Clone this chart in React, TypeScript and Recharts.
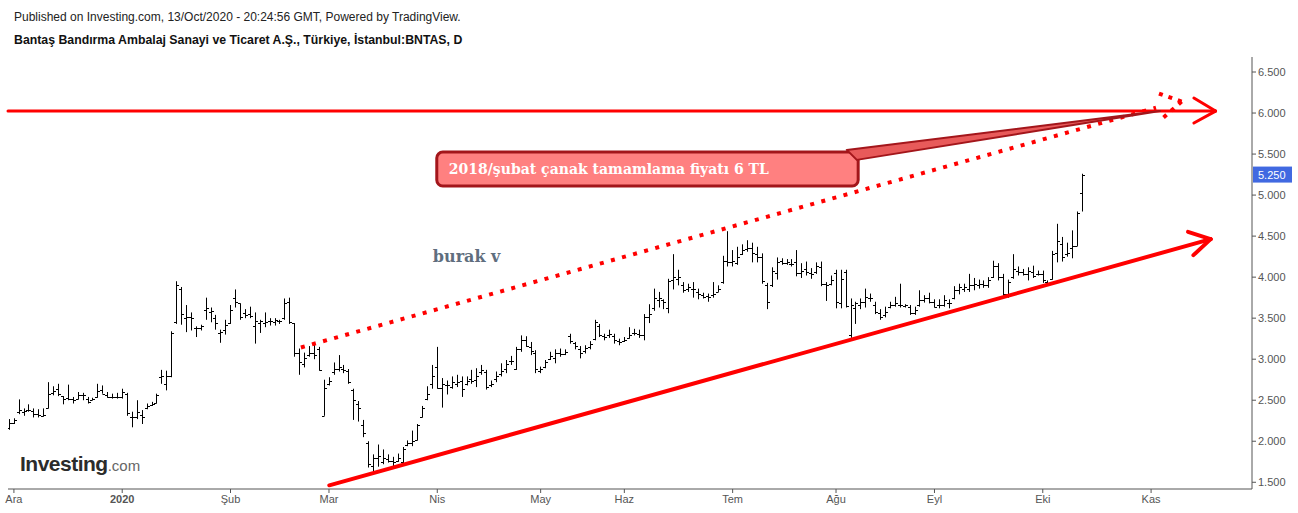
import React from 'react';
import {
  ComposedChart,
  Bar,
  XAxis,
  YAxis,
  ReferenceLine,
  ReferenceArea,
  ReferenceDot,
} from 'recharts';

// daily OHLC, BNTAS, 29 Nov 2019 -> 13 Oct 2020
const opens = [
  2.16, 2.22, 2.36, 2.36, 2.38, 2.37, 2.33, 2.31, 2.41, 2.59,
  2.64, 2.55, 2.53, 2.52, 2.52, 2.56, 2.52, 2.50, 2.54, 2.63,
  2.56, 2.54, 2.54, 2.54, 2.58, 2.30, 2.30, 2.32, 2.40, 2.44,
  2.47, 2.78, 2.70, 2.80, 3.45, 3.85, 3.50, 3.52, 3.38, 3.38,
  3.60, 3.58, 3.50, 3.32, 3.36, 3.44, 3.74, 3.68, 3.56, 3.55,
  3.40, 3.44, 3.44, 3.46, 3.45, 3.46, 3.50, 3.70, 3.44, 3.08,
  2.94, 3.05, 3.08, 3.12, 2.31, 2.70, 2.85, 2.88, 2.88, 2.86,
  2.62, 2.45, 2.20, 1.98, 1.70, 1.80, 1.75, 1.78, 1.76, 1.76,
  1.75, 1.95, 1.98, 2.02, 2.30, 2.52, 2.70, 2.90, 2.65, 2.68,
  2.66, 2.70, 2.74, 2.70, 2.76, 2.75, 2.84, 2.84, 2.68, 2.76,
  2.82, 2.88, 2.98, 2.88, 3.12, 3.24, 3.15, 3.08, 2.86, 2.90,
  3.00, 3.02, 3.08, 3.06, 3.28, 3.20, 3.12, 3.10, 3.15, 3.25,
  3.40, 3.28, 3.30, 3.28, 3.22, 3.22, 3.26, 3.32, 3.31, 3.29,
  3.52, 3.62, 3.72, 3.72, 3.62, 3.97, 3.98, 3.90, 3.86, 3.86,
  3.82, 3.78, 3.77, 3.78, 3.82, 3.94, 4.20, 4.18, 4.17, 4.28,
  4.34, 4.36, 4.28, 4.24, 3.90, 3.90, 4.05, 4.20, 4.17, 4.16,
  4.18, 4.05, 4.10, 4.05, 4.06, 4.12, 3.92, 3.92, 4.05, 3.68,
  4.06, 3.30, 3.62, 3.66, 3.70, 3.74, 3.66, 3.56, 3.54, 3.64,
  3.66, 3.66, 3.65, 3.64, 3.56, 3.66, 3.72, 3.74, 3.70, 3.66,
  3.66, 3.68, 3.74, 3.84, 3.86, 3.86, 3.90, 3.90, 3.92, 3.90,
  4.00, 4.14, 4.00, 3.80, 4.00, 4.08, 4.06, 4.04, 4.06, 4.04,
  4.04, 3.94, 3.98, 4.30, 4.40, 4.28, 4.36, 4.38, 5.03,
];
const highs = [
  2.27, 2.28, 2.51, 2.40, 2.45, 2.40, 2.39, 2.40, 2.72, 2.67,
  2.70, 2.55, 2.69, 2.54, 2.60, 2.59, 2.54, 2.53, 2.70, 2.68,
  2.60, 2.58, 2.59, 2.64, 2.59, 2.36, 2.50, 2.38, 2.46, 2.48,
  2.58, 2.87, 2.86, 3.34, 3.95, 3.88, 3.66, 3.57, 3.40, 3.42,
  3.75, 3.63, 3.54, 3.36, 3.48, 3.66, 3.85, 3.68, 3.61, 3.64,
  3.57, 3.48, 3.57, 3.50, 3.50, 3.48, 3.74, 3.75, 3.44, 3.13,
  3.08, 3.16, 3.20, 3.15, 2.75, 2.78, 2.96, 3.05, 2.93, 2.88,
  2.64, 2.49, 2.26, 2.00, 1.84, 1.96, 1.90, 1.84, 1.81, 1.85,
  1.93, 2.01, 2.13, 2.21, 2.43, 2.67, 2.93, 3.15, 2.77, 2.74,
  2.79, 2.81, 2.79, 2.79, 2.87, 2.89, 2.93, 2.87, 2.74, 2.85,
  2.95, 2.99, 3.04, 3.15, 3.29, 3.28, 3.21, 3.11, 2.91, 2.99,
  3.09, 3.12, 3.13, 3.12, 3.31, 3.21, 3.16, 3.17, 3.22, 3.48,
  3.43, 3.31, 3.36, 3.31, 3.25, 3.27, 3.39, 3.37, 3.36, 3.55,
  3.67, 3.86, 3.82, 3.73, 3.98, 4.28, 4.09, 3.94, 3.92, 3.94,
  3.86, 3.81, 3.80, 3.94, 3.90, 4.26, 4.56, 4.33, 4.37, 4.40,
  4.45, 4.42, 4.37, 4.29, 3.93, 4.12, 4.24, 4.23, 4.22, 4.22,
  4.33, 4.17, 4.19, 4.11, 4.18, 4.19, 3.94, 4.02, 4.09, 4.09,
  4.09, 3.74, 3.70, 3.74, 3.86, 3.80, 3.70, 3.61, 3.64, 3.70,
  3.76, 3.92, 3.67, 3.66, 3.64, 3.84, 3.78, 3.81, 3.73, 3.73,
  3.78, 3.73, 3.89, 3.92, 3.92, 4.04, 3.99, 3.97, 3.96, 4.00,
  4.20, 4.17, 4.04, 3.97, 4.28, 4.13, 4.10, 4.12, 4.14, 4.08,
  4.08, 3.96, 4.32, 4.65, 4.49, 4.42, 4.57, 4.80, 5.26,
];
const lows = [
  2.14, 2.21, 2.33, 2.31, 2.36, 2.29, 2.29, 2.30, 2.40, 2.56,
  2.55, 2.45, 2.50, 2.46, 2.51, 2.50, 2.46, 2.50, 2.53, 2.58,
  2.53, 2.52, 2.52, 2.52, 2.31, 2.17, 2.27, 2.21, 2.39, 2.43,
  2.46, 2.70, 2.62, 2.78, 3.43, 3.42, 3.33, 3.35, 3.27, 3.35,
  3.48, 3.45, 3.36, 3.20, 3.30, 3.43, 3.63, 3.48, 3.50, 3.50,
  3.19, 3.32, 3.39, 3.41, 3.41, 3.43, 3.48, 3.43, 3.03, 2.81,
  2.90, 3.03, 3.00, 2.86, 2.31, 2.68, 2.81, 2.85, 2.83, 2.70,
  2.26, 2.24, 2.05, 1.68, 1.61, 1.69, 1.72, 1.74, 1.68, 1.75,
  1.70, 1.94, 1.94, 2.01, 2.29, 2.50, 2.64, 2.64, 2.41, 2.57,
  2.64, 2.66, 2.54, 2.68, 2.70, 2.66, 2.81, 2.63, 2.66, 2.72,
  2.79, 2.83, 2.93, 2.87, 3.09, 3.15, 3.05, 2.83, 2.83, 2.89,
  2.99, 2.95, 3.03, 3.05, 3.19, 3.12, 3.01, 3.07, 3.12, 3.23,
  3.27, 3.23, 3.26, 3.19, 3.17, 3.21, 3.25, 3.29, 3.26, 3.23,
  3.44, 3.59, 3.63, 3.61, 3.56, 3.85, 3.90, 3.81, 3.82, 3.75,
  3.73, 3.74, 3.70, 3.75, 3.82, 3.92, 4.13, 4.13, 4.15, 4.27,
  4.31, 4.18, 4.18, 3.92, 3.61, 3.88, 3.97, 4.15, 4.15, 4.13,
  4.01, 3.99, 4.02, 3.98, 4.04, 3.89, 3.71, 3.90, 3.62, 3.62,
  3.63, 3.26, 3.43, 3.61, 3.63, 3.70, 3.55, 3.48, 3.51, 3.62,
  3.64, 3.63, 3.63, 3.54, 3.54, 3.64, 3.69, 3.68, 3.63, 3.62,
  3.64, 3.62, 3.73, 3.79, 3.82, 3.82, 3.84, 3.86, 3.87, 3.87,
  3.99, 3.96, 3.76, 3.75, 3.98, 4.02, 4.02, 3.96, 3.99, 4.02,
  3.93, 3.90, 3.97, 4.18, 4.19, 4.25, 4.23, 4.38, 4.80,
];
const closes = [
  2.22, 2.26, 2.38, 2.37, 2.38, 2.33, 2.32, 2.32, 2.58, 2.61,
  2.57, 2.52, 2.52, 2.50, 2.56, 2.56, 2.48, 2.52, 2.61, 2.58,
  2.54, 2.54, 2.54, 2.60, 2.35, 2.29, 2.36, 2.29, 2.43, 2.45,
  2.56, 2.80, 2.80, 3.32, 3.90, 3.55, 3.52, 3.50, 3.38, 3.40,
  3.62, 3.59, 3.44, 3.33, 3.42, 3.60, 3.70, 3.52, 3.54, 3.53,
  3.46, 3.46, 3.45, 3.47, 3.48, 3.47, 3.68, 3.45, 3.08, 2.96,
  3.02, 3.08, 3.05, 2.87, 2.65, 2.74, 2.88, 2.90, 2.87, 2.72,
  2.50, 2.40, 2.10, 1.72, 1.80, 1.82, 1.79, 1.76, 1.75, 1.80,
  1.90, 1.98, 2.00, 2.20, 2.40, 2.58, 2.80, 2.65, 2.70, 2.68,
  2.72, 2.72, 2.64, 2.74, 2.74, 2.80, 2.87, 2.66, 2.70, 2.80,
  2.86, 2.94, 2.98, 3.13, 3.24, 3.16, 3.10, 2.88, 2.88, 2.96,
  3.04, 3.08, 3.06, 3.09, 3.22, 3.16, 3.08, 3.14, 3.19, 3.45,
  3.30, 3.27, 3.31, 3.24, 3.21, 3.24, 3.30, 3.32, 3.29, 3.52,
  3.55, 3.75, 3.75, 3.70, 3.95, 4.00, 4.00, 3.84, 3.88, 3.86,
  3.80, 3.76, 3.76, 3.80, 3.86, 4.20, 4.18, 4.20, 4.25, 4.33,
  4.36, 4.30, 4.25, 3.95, 3.70, 4.08, 4.18, 4.17, 4.18, 4.16,
  4.05, 4.08, 4.06, 4.04, 4.14, 3.92, 3.90, 3.96, 3.70, 3.98,
  3.65, 3.66, 3.68, 3.70, 3.76, 3.74, 3.58, 3.52, 3.58, 3.66,
  3.68, 3.66, 3.66, 3.56, 3.60, 3.72, 3.74, 3.70, 3.64, 3.66,
  3.72, 3.68, 3.84, 3.88, 3.88, 3.90, 3.92, 3.92, 3.90, 3.96,
  4.14, 4.00, 3.80, 3.94, 4.10, 4.06, 4.04, 4.08, 4.02, 4.04,
  3.96, 3.92, 4.28, 4.44, 4.24, 4.30, 4.38, 4.78, 5.25,
];

// month ticks (bar index of the first session of the month)
const monthTicks = [1, 23, 45, 65, 87, 108, 125, 147, 168, 188, 210, 232];
const monthLabels = ['Ara', '2020', 'Şub', 'Mar', 'Nis', 'May', 'Haz', 'Tem', 'Ağu', 'Eyl', 'Eki', 'Kas'];
const priceTicks = [1.5, 2, 2.5, 3, 3.5, 4, 4.5, 5, 5.5, 6, 6.5];

// drawings on the chart (bar index, price)
const targetLine = [{ x: -0.2, y: 6.024 }, { x: 245.1, y: 6.024 }];
const targetArrow = [{ x: 240.7, y: 6.183 }, { x: 240.7, y: 5.878 }];
const supportLine = [{ x: 65.06, y: 1.463 }, { x: 244.1, y: 4.463 }];
const supportArrow = [{ x: 239.5, y: 4.552 }, { x: 240.6, y: 4.268 }];
const dottedLine = [{ x: 59.3, y: 3.143 }, { x: 233.0, y: 6.065 }];
const dottedTip = { x: 238.2, y: 6.14 };
const dottedArrow = [{ x: 233.0, y: 6.25 }, { x: 234.4, y: 5.94 }];
const calloutBox = { x1: 86.9, x2: 172.5, y1: 5.11, y2: 5.524 };
const calloutPointer = [{ x: 171.0, y: 5.49 }, { x: 233.8, y: 6.024 }];
const calloutText = '2018/şubat çanak tamamlama fiyatı 6 TL';
const signature = { x: 86.1, y: 4.183, text: 'burak v' };

const data = highs.map((h, i) => ({ i, open: opens[i], high: h, low: lows[i], close: closes[i] }));
const lastClose = closes[closes.length - 1];

const RED = '#ff0000';
const SERIF = "'DejaVu Serif', 'Liberation Serif', serif";

function OhlcShape(props: any) {
  const { x, y, width, height, payload } = props;
  if (x == null || y == null || !payload) return null;
  const top = Math.min(y, y + height);
  const bot = Math.max(y, y + height);
  const cx = Math.round(x + width / 2) + 0.5;
  const span = payload.high - payload.low || 1;
  const yOf = (v: number) => Math.round(top + ((payload.high - v) / span) * (bot - top)) + 0.5;
  return (
    <g stroke="#000" strokeWidth={1}>
      <line x1={cx} x2={cx} y1={top} y2={Math.max(bot, top + 1)} />
      <line x1={cx - 2.5} x2={cx} y1={yOf(payload.open)} y2={yOf(payload.open)} />
      <line x1={cx} x2={cx + 2.5} y1={yOf(payload.close)} y2={yOf(payload.close)} />
    </g>
  );
}

function MonthTick(props: any) {
  const { x, y, payload } = props;
  const label = monthLabels[monthTicks.indexOf(payload.value)] ?? '';
  return (
    <text x={x} y={y} dy="0.71em" textAnchor="middle" fill="#555" fontSize={11}
      fontWeight={label === '2020' ? 'bold' : 'normal'}>
      {label}
    </text>
  );
}

function Wedge(props: any) {
  const { x1, y1, x2, y2 } = props;
  if (x1 == null) return null;
  const pts = `${x1 - 4},${y1 - 5} ${x2},${y2} ${x1 + 6},${y1 + 5}`;
  return <polygon points={pts} fill="#e85a5a" stroke="#a3161b" strokeWidth={2} strokeLinejoin="round" />;
}

function Callout(props: any) {
  const { x, y, width, height } = props;
  if (x == null) return null;
  return (
    <g>
      <rect x={x} y={y} width={width} height={height} rx={6} ry={6}
        fill="#ff8080" stroke="#a3161b" strokeWidth={3} />
      <text x={x + 12} y={y + height / 2 + 5} fill="#fff" fontSize={14} fontWeight="bold" fontFamily={SERIF}>
        {calloutText}
      </text>
    </g>
  );
}

function Signature(props: any) {
  const { cx, cy } = props;
  if (cx == null) return null;
  return (
    <text x={cx} y={cy} fill="#5f6e7e" fontSize={16} fontWeight="bold" fontFamily={SERIF}>
      {signature.text}
    </text>
  );
}

function LastPrice(props: any) {
  const { cx, cy } = props;
  if (cx == null) return null;
  return (
    <g>
      <rect x={cx + 1} y={cy - 8} width={39} height={16} fill="#4169e1" />
      <text x={cx + 6} y={cy + 4} fill="#fff" fontSize={11}>{lastClose.toFixed(3)}</text>
    </g>
  );
}

export default function App(): React.ReactElement {
  const lineProps = { stroke: RED, ifOverflow: 'visible' as const, strokeLinecap: 'round' as const };
  return (
    <div style={{ position: 'relative', width: 1298, height: 513, background: '#fff', overflow: 'hidden',
      fontFamily: "Arial, 'Liberation Sans', sans-serif" }}>
      <style>{'body{margin:0}'}</style>
      <div style={{ position: 'absolute', left: 14, top: 10, fontSize: 12, color: '#222', whiteSpace: 'nowrap' }}>
        Published on Investing.com, 13/Oct/2020 - 20:24:56 GMT, Powered by TradingView.
      </div>
      <div style={{ position: 'absolute', left: 14, top: 33, fontSize: 12.3, fontWeight: 'bold', color: '#111', whiteSpace: 'nowrap' }}>
        Bantaş Bandırma Ambalaj Sanayi ve Ticaret A.Ş., Türkiye, İstanbul:BNTAS, D
      </div>

      <ComposedChart width={1298} height={513} data={data} margin={{ top: 57, right: 0, bottom: 0, left: 8 }}>
        <XAxis
          dataKey="i"
          type="number"
          domain={[-0.2, 252.5]}
          ticks={monthTicks}
          interval={0}
          allowDataOverflow
          height={24}
          tickSize={4}
          tickMargin={2}
          stroke="#555"
          tick={<MonthTick />}
        />
        <YAxis
          orientation="right"
          type="number"
          domain={[1.418, 6.683]}
          ticks={priceTicks}
          interval={0}
          allowDataOverflow
          width={46}
          tickSize={4}
          tickMargin={2}
          stroke="#555"
          tick={{ fill: '#555', fontSize: 11 }}
          tickFormatter={(v: number) => v.toFixed(3)}
        />
        <Bar
          dataKey={(d: any) => [d.low, d.high]}
          barSize={5}
          shape={OhlcShape}
          isAnimationActive={false}
        />

        <ReferenceLine segment={targetLine} strokeWidth={3} {...lineProps} />
        <ReferenceLine segment={[targetLine[1], targetArrow[0]]} strokeWidth={3} {...lineProps} />
        <ReferenceLine segment={[targetLine[1], targetArrow[1]]} strokeWidth={3} {...lineProps} />

        <ReferenceLine segment={supportLine} strokeWidth={4} {...lineProps} />
        <ReferenceLine segment={[supportLine[1], supportArrow[0]]} strokeWidth={4} {...lineProps} />
        <ReferenceLine segment={[supportLine[1], supportArrow[1]]} strokeWidth={4} {...lineProps} />

        <ReferenceLine segment={dottedLine} stroke={RED} strokeWidth={4} strokeDasharray="4 7.5" ifOverflow="visible" />
        <ReferenceLine segment={[dottedTip, dottedArrow[0]]} stroke={RED} strokeWidth={4} strokeDasharray="4 6" ifOverflow="visible" />
        <ReferenceLine segment={[dottedTip, dottedArrow[1]]} stroke={RED} strokeWidth={4} strokeDasharray="4 6" ifOverflow="visible" />

        <ReferenceLine segment={calloutPointer} ifOverflow="visible" shape={Wedge} />
        <ReferenceArea {...calloutBox} ifOverflow="visible" shape={Callout} />
        <ReferenceDot x={signature.x} y={signature.y} r={0} ifOverflow="visible" shape={Signature} />
        <ReferenceDot x={252.5} y={lastClose} r={0} ifOverflow="visible" shape={LastPrice} />
      </ComposedChart>

      <div style={{ position: 'absolute', left: 20, top: 452, whiteSpace: 'nowrap', lineHeight: '24px' }}>
        <span style={{ fontSize: 21, fontWeight: 'bold', color: '#2b2b2b', letterSpacing: -0.5 }}>Investing</span>
        <span style={{ fontSize: 15, color: '#666' }}>.com</span>
      </div>
    </div>
  );
}
